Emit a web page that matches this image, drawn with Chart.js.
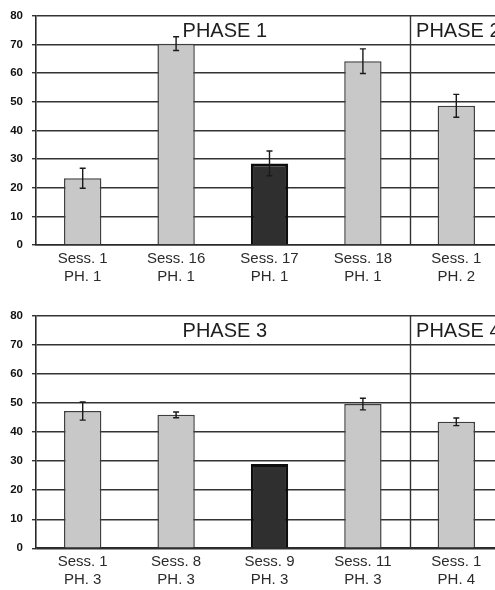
<!DOCTYPE html>
<html>
<head>
<meta charset="utf-8">
<script src="https://cdn.jsdelivr.net/npm/chart.js@4.4.1/dist/chart.umd.min.js"></script>
<style>
  html, body { margin: 0; padding: 0; background: #fff; overflow: hidden; width: 495px; height: 590px; }
  canvas { position: absolute; left: 0; }
  #topChart { top: 0; }
  #bottomChart { top: 295px; }
</style>
</head>
<body>
<canvas id="topChart"></canvas>
<canvas id="bottomChart"></canvas>
<script>
// Session means (with error) for the two phase blocks
const topLabels = [['Sess. 1', 'PH. 1'], ['Sess. 16', 'PH. 1'], ['Sess. 17', 'PH. 1'], ['Sess. 18', 'PH. 1'], ['Sess. 1', 'PH. 2']];
const topMeans = [23.3, 70.3, 28.5, 64.2, 48.6];
const topErrors = [3.5, 2.4, 4.3, 4.3, 4.0];
const topDarkIndex = [2];
const topPhaseNames = ['PHASE 1', 'PHASE 2'];
const topPhaseStarts = [0, 4];

const bottomLabels = [['Sess. 1', 'PH. 3'], ['Sess. 8', 'PH. 3'], ['Sess. 9', 'PH. 3'], ['Sess. 11', 'PH. 3'], ['Sess. 1', 'PH. 4']];
const bottomMeans = [47.2, 45.9, 29.0, 49.6, 43.5];
const bottomErrors = [3.1, 1.0, 0, 2.0, 1.3];
const bottomDarkIndex = [2];
const bottomPhaseNames = ['PHASE 3', 'PHASE 4'];
const bottomPhaseStarts = [0, 4];

const yTicks = [0, 10, 20, 30, 40, 50, 60, 70, 80];

const FONT = '"Liberation Sans", Arial, sans-serif';

// Whiskers for mean +/- error
const errorBars = {
  id: 'errorBars',
  afterDatasetsDraw(chart, args, opts) {
    const meta = chart.getDatasetMeta(0);
    const y = chart.scales.y;
    const ctx = chart.ctx;
    ctx.save();
    ctx.strokeStyle = '#1a1a1a';
    ctx.lineWidth = 1.4;
    opts.values.forEach((v, i) => {
      const e = opts.errors[i];
      if (!e) return;
      const x = meta.data[i].x;
      const yt = y.getPixelForValue(v + e);
      const yb = y.getPixelForValue(v - e);
      ctx.beginPath();
      ctx.moveTo(x, yt); ctx.lineTo(x, yb);
      ctx.moveTo(x - 3, yt); ctx.lineTo(x + 3, yt);
      ctx.moveTo(x - 3, yb); ctx.lineTo(x + 3, yb);
      ctx.stroke();
    });
    ctx.restore();
  }
};

// Phase dividers and phase titles across the top band
const phaseBands = {
  id: 'phaseBands',
  beforeDatasetsDraw(chart, args, opts) {
    const x = chart.scales.x, a = chart.chartArea, ctx = chart.ctx;
    ctx.save();
    ctx.strokeStyle = '#333';
    ctx.lineWidth = 1.4;
    opts.starts.forEach(s => {
      if (s === 0) return;
      const px = Math.round((x.getPixelForValue(s - 1) + x.getPixelForValue(s)) / 2) + 0.5;
      ctx.beginPath();
      ctx.moveTo(px, a.top); ctx.lineTo(px, a.bottom);
      ctx.stroke();
    });
    ctx.restore();
  },
  afterDraw(chart, args, opts) {
    const x = chart.scales.x, y = chart.scales.y, ctx = chart.ctx;
    const n = chart.data.labels.length;
    ctx.save();
    ctx.fillStyle = '#1e1e1e';
    ctx.font = '20px ' + FONT;
    ctx.textAlign = 'center';
    ctx.textBaseline = 'middle';
    opts.names.forEach((name, k) => {
      const s = opts.starts[k];
      const e = k + 1 < opts.starts.length ? opts.starts[k + 1] - 1 : n - 1;
      const cx = (x.getPixelForValue(s) + x.getPixelForValue(e)) / 2;
      ctx.fillText(name, cx + 2, y.getPixelForValue(75) + 1);
    });
    ctx.restore();
  }
};

function makeChart(id, labels, means, errors, darkIdx, names, starts, geom) {
  const canvas = document.getElementById(id);
  canvas.width = 503; canvas.height = 295;
  canvas.style.width = '503px'; canvas.style.height = '295px';
  const fills = means.map((_, i) => darkIdx.includes(i) ? '#2f2f2f' : '#c8c8c8');
  const borders = means.map((_, i) => darkIdx.includes(i) ? '#0d0d0d' : '#3f3f3f');
  const widths = means.map((_, i) => darkIdx.includes(i) ? 3 : 1.5);
  return new Chart(canvas, {
    type: 'bar',
    data: {
      labels: labels,
      datasets: [{
        data: means,
        backgroundColor: fills,
        borderColor: borders,
        borderWidth: widths,
        barPercentage: 0.4,
        categoryPercentage: 1.0
      }]
    },
    options: {
      responsive: false,
      animation: false,
      devicePixelRatio: 1,
      layout: { padding: { top: geom.top, left: 0, right: 0, bottom: 0 } },
      plugins: {
        legend: { display: false },
        tooltip: { enabled: false },
        errorBars: { values: means, errors: errors },
        phaseBands: { names: names, starts: starts }
      },
      scales: {
        x: {
          offset: true,
          grid: { display: false, drawTicks: false },
          border: { display: true, color: '#2a2a2a', width: 1.6 },
          ticks: {
            color: '#2b2b2b',
            font: { family: FONT, size: 15, lineHeight: 1.2 },
            padding: 5,
            maxRotation: 0,
            autoSkip: false
          },
          afterFit(scale) { scale.height = geom.xh; }
        },
        y: {
          min: 0, max: 80,
          afterBuildTicks(scale) { scale.ticks = yTicks.map(v => ({ value: v })); },
          grid: { color: '#333', lineWidth: 1.4, tickLength: 4, drawTicks: true },
          border: { display: true, color: '#2a2a2a', width: 1.6 },
          ticks: {
            color: '#111',
            font: { family: FONT, size: 11.5, weight: 'bold' },
            padding: 9
          },
          afterFit(scale) { scale.width = 36; }
        }
      }
    },
    plugins: [errorBars, phaseBands]
  });
}

makeChart('topChart', topLabels, topMeans, topErrors, topDarkIndex, topPhaseNames, topPhaseStarts, { top: 11, xh: 50 });
makeChart('bottomChart', bottomLabels, bottomMeans, bottomErrors, bottomDarkIndex, bottomPhaseNames, bottomPhaseStarts, { top: 20.7, xh: 41.7 });
</script>
</body>
</html>
